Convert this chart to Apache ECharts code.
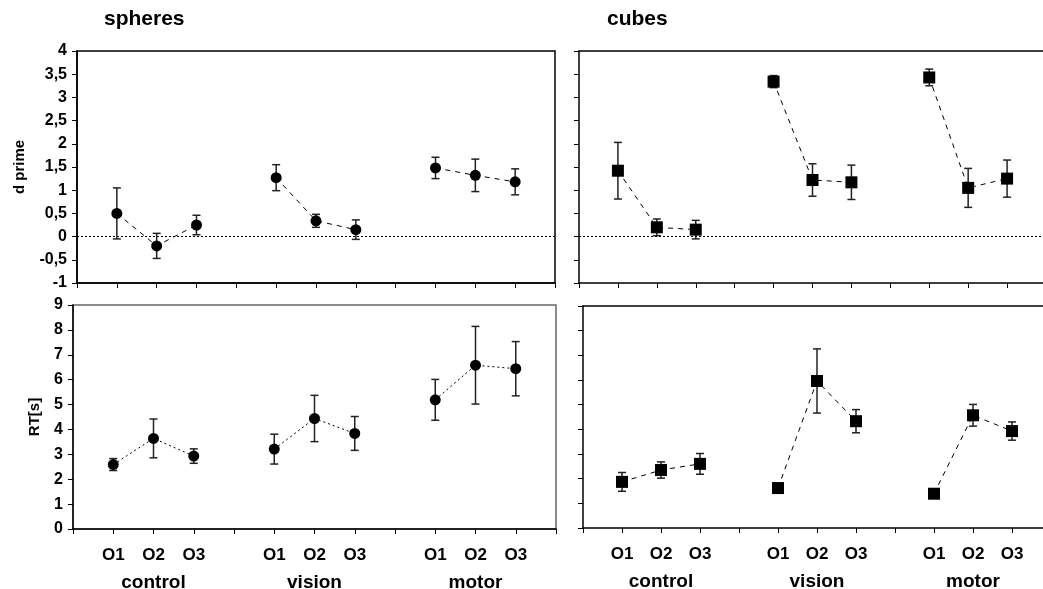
<!DOCTYPE html>
<html>
<head>
<meta charset="utf-8">
<script src="https://cdn.jsdelivr.net/npm/echarts@6/dist/echarts.min.js"></script>
<style>
  html, body { margin: 0; padding: 0; background: #fff; }
  #chart { width: 1043px; height: 589px; }
</style>
</head>
<body>
<div id="chart"></div>
<script>
// 数据
const conditions = ['O1', 'O2', 'O3'];
const groups = ['control', 'vision', 'motor'];
const xPos = [1, 2, 3, 5, 6, 7, 9, 10, 11];

const spheresD = [0.50, -0.20, 0.25, 1.27, 0.34, 0.15, 1.48, 1.32, 1.18];
const spheresDErr = [0.55, 0.27, 0.21, 0.28, 0.14, 0.21, 0.23, 0.35, 0.28];
const cubesD = [1.42, 0.20, 0.15, 3.34, 1.22, 1.17, 3.43, 1.05, 1.25];
const cubesDErr = [0.61, 0.18, 0.20, 0.13, 0.35, 0.37, 0.18, 0.42, 0.40];
const spheresRT = [2.59, 3.64, 2.93, 3.21, 4.44, 3.84, 5.19, 6.58, 6.44];
const spheresRTErr = [0.24, 0.78, 0.29, 0.60, 0.93, 0.68, 0.82, 1.56, 1.09];
const cubesRT = [1.87, 2.35, 2.60, 1.62, 5.96, 4.33, 1.39, 4.57, 3.93];
const cubesRTErr = [0.38, 0.33, 0.42, 0, 1.30, 0.47, 0, 0.44, 0.37];

const FONT = 'Liberation Sans';

const chart = echarts.init(document.getElementById('chart'));

// x轴标签
function xLabel(v) {
  const i = xPos.indexOf(v);
  if (i < 0) return '';
  const c = conditions[i % 3];
  if (i % 3 === 1) return c + '\n{g|' + groups[Math.floor(i / 3)] + '}';
  return c;
}

function makeX(gi, showLabel) {
  return {
    type: 'value', gridIndex: gi, min: 0, max: 12, interval: 1,
    axisLine: { show: true, onZero: false, lineStyle: { color: '#000', width: 1.5 } },
    axisTick: { show: true, length: 5, lineStyle: { color: '#000', width: 1 } },
    splitLine: { show: false },
    axisLabel: showLabel ? {
      show: true, formatter: xLabel, margin: 13,
      fontFamily: FONT, fontWeight: 'bold', fontSize: 17, color: '#000', lineHeight: 27,
      rich: { g: { fontFamily: FONT, fontWeight: 'bold', fontSize: 19, color: '#000', lineHeight: 27 } }
    } : { show: false }
  };
}

// 右侧面板的上边框线
function topLine(gi) {
  return {
    type: 'value', gridIndex: gi, min: 0, max: 12, position: 'top',
    axisLine: { show: true, onZero: false, lineStyle: { color: '#000', width: 1.5 } },
    axisTick: { show: false }, axisLabel: { show: false }, splitLine: { show: false }
  };
}

function makeY(gi, min, max, interval, showLabel, name, nameGap) {
  return {
    type: 'value', gridIndex: gi, min: min, max: max, interval: interval,
    axisLine: { show: true, onZero: false, lineStyle: { color: '#000', width: 1.5 } },
    axisTick: { show: true, length: 5, lineStyle: { color: '#000', width: 1 } },
    splitLine: { show: false },
    name: name || '', nameLocation: 'middle', nameGap: nameGap || 0, nameRotate: 90,
    nameTextStyle: { fontFamily: FONT, fontWeight: 'bold', fontSize: 15, color: '#000' },
    axisLabel: showLabel ? {
      show: true, margin: 10,
      formatter: v => String(v).replace('.', ','),
      fontFamily: FONT, fontWeight: 'bold', fontSize: 16, color: '#000'
    } : { show: false }
  };
}

// 每组一条折线
function lineSeries(gi, vals, symbol, dash) {
  const out = [];
  for (let g = 0; g < 3; g++) {
    const data = [];
    for (let k = 0; k < 3; k++) data.push([xPos[g * 3 + k], vals[g * 3 + k]]);
    out.push({
      type: 'line', xAxisIndex: gi, yAxisIndex: gi, data: data,
      symbol: symbol, symbolSize: symbol === 'rect' ? 12 : 11,
      itemStyle: { color: '#000' },
      lineStyle: { color: '#000', width: 1, type: dash },
      z: 3, silent: true, animation: false
    });
  }
  return out;
}

// 误差线
function errSeries(gi, vals, errs) {
  return {
    type: 'custom', xAxisIndex: gi, yAxisIndex: gi, z: 2, silent: true, animation: false,
    data: xPos.map((x, i) => [x, vals[i] - errs[i], vals[i] + errs[i]]),
    renderItem: (params, api) => {
      const lo = api.coord([api.value(0), api.value(1)]);
      const hi = api.coord([api.value(0), api.value(2)]);
      const w = 4;
      const st = { stroke: '#222', lineWidth: 1.5 };
      return {
        type: 'group',
        children: [
          { type: 'line', shape: { x1: lo[0], y1: lo[1], x2: hi[0], y2: hi[1] }, style: st },
          { type: 'line', shape: { x1: lo[0] - w, y1: lo[1], x2: lo[0] + w, y2: lo[1] }, style: st },
          { type: 'line', shape: { x1: hi[0] - w, y1: hi[1], x2: hi[0] + w, y2: hi[1] }, style: st }
        ]
      };
    }
  };
}

function zeroLine(gi) {
  return {
    type: 'line', xAxisIndex: gi, yAxisIndex: gi, data: [], silent: true,
    markLine: {
      silent: true, symbol: 'none', label: { show: false }, animation: false,
      lineStyle: { color: '#000', width: 1, type: [2, 2] },
      data: [{ yAxis: 0 }]
    }
  };
}

const dashTop = [5, 5];

chart.setOption({
  backgroundColor: '#fff',
  animation: false,
  title: [
    { text: 'spheres', left: 99, top: 4, textStyle: { fontFamily: FONT, fontWeight: 'bold', fontSize: 21, color: '#000' } },
    { text: 'cubes', left: 602, top: 4, textStyle: { fontFamily: FONT, fontWeight: 'bold', fontSize: 21, color: '#000' } }
  ],
  grid: [
    { left: 77, top: 51, width: 478, height: 232, show: true, borderColor: '#000', borderWidth: 1.5, outerBoundsMode: 'none' },
    { left: 579, top: 51, width: 467, height: 232, show: false, outerBoundsMode: 'none' },
    { left: 73, top: 305, width: 483, height: 224, show: true, borderColor: '#666', borderWidth: 1.5, outerBoundsMode: 'none' },
    { left: 583, top: 306, width: 468, height: 222, show: false, outerBoundsMode: 'none' }
  ],
  xAxis: [makeX(0, false), makeX(1, false), makeX(2, true), makeX(3, true), topLine(1), topLine(3)],
  yAxis: [
    makeY(0, -1, 4, 0.5, true, 'd prime', 50),
    makeY(1, -1, 4, 0.5, false),
    makeY(2, 0, 9, 1, true, 'RT[s]', 31),
    makeY(3, 0, 9, 1, false)
  ],
  series: [
    zeroLine(0), zeroLine(1),
    errSeries(0, spheresD, spheresDErr),
    errSeries(1, cubesD, cubesDErr),
    errSeries(2, spheresRT, spheresRTErr),
    errSeries(3, cubesRT, cubesRTErr),
    ...lineSeries(0, spheresD, 'circle', dashTop),
    ...lineSeries(1, cubesD, 'rect', dashTop),
    ...lineSeries(2, spheresRT, 'circle', [2, 3]),
    ...lineSeries(3, cubesRT, 'rect', [5, 5])
  ]
});
</script>
</body>
</html>
